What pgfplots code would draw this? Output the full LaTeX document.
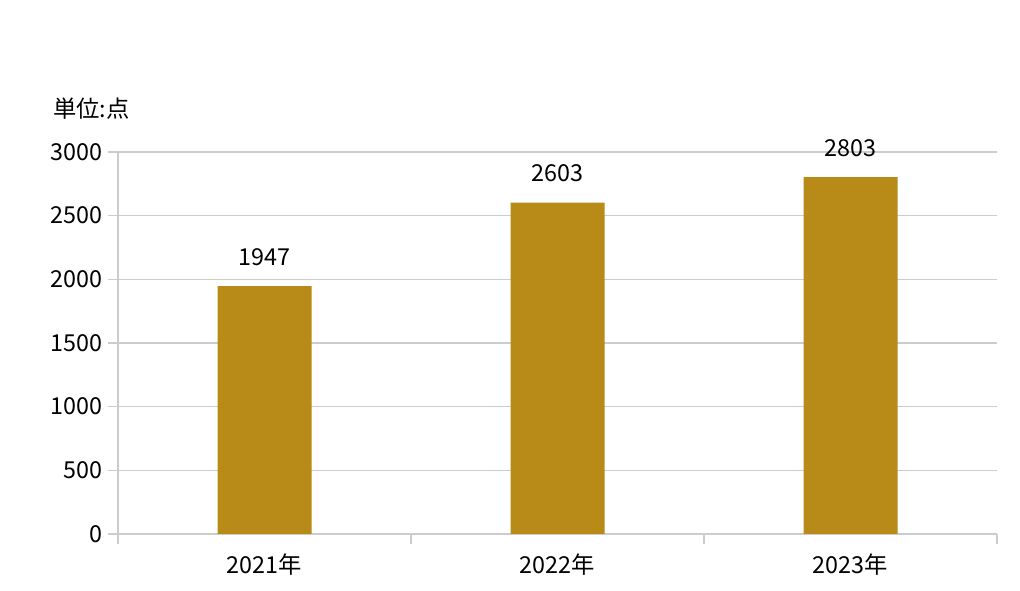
\documentclass[border=0pt]{standalone}
\usepackage{pgfplots}
\pgfplotsset{compat=1.18}
\usepackage{fontspec}
\setmainfont{Noto Sans CJK JP}
\definecolor{barc}{HTML}{B88A17}
\definecolor{gridc}{HTML}{CCCCCC}
\begin{document}
\begin{tikzpicture}
\useasboundingbox (0pt,0pt) rectangle (765pt,443.25pt);
\begin{axis}[
  at={(88.5pt,42.75pt)}, anchor=south west,
  scale only axis, width=659.25pt, height=286.5pt,
  xmin=-0.5, xmax=2.5, ymin=0, ymax=3000,
  axis x line=bottom, axis y line=left,
  axis line style={gridc, line width=1.1pt, -},
  ytick={0,500,1000,1500,2000,2500,3000},
  ymajorgrids, grid style={gridc, line width=1.1pt},
  tick align=outside,
  major tick length=7.5pt,
  tick style={gridc, line width=1.1pt},
  xtick={-0.5,0.5,1.5,2.5}, xticklabels={},
  extra x ticks={0,1,2},
  extra x tick labels={2021年,2022年,2023年},
  extra x tick style={major tick length=0pt, xmajorgrids=false, tick label style={yshift=-11pt}},
  /pgf/number format/assume math mode=true,
  yticklabel style={font=\fontsize{17.5}{20}\selectfont, xshift=-1pt},
  xticklabel style={font=\fontsize{17.5}{20}\selectfont},
  scaled y ticks=false,
  y tick label style={/pgf/number format/1000 sep={}},
  clip=false,
]
\addplot[ybar, bar width=70.5pt, fill=barc, draw=none,
  nodes near coords, point meta=explicit symbolic,
  every node near coord/.append style={font=\fontsize{17.5}{20}\selectfont, anchor=base, inner sep=0pt, yshift=15.5pt, text=black}]
  coordinates {(0,1947)[1947] (1,2603)[2603] (2,2803)[2803]};
\node[font=\fontsize{17.5}{20}\selectfont, anchor=base west, inner sep=0pt] at (rel axis cs:0,1) [xshift=-48.75pt, yshift=26pt] {単位:点};
\end{axis}
\end{tikzpicture}
\end{document}
